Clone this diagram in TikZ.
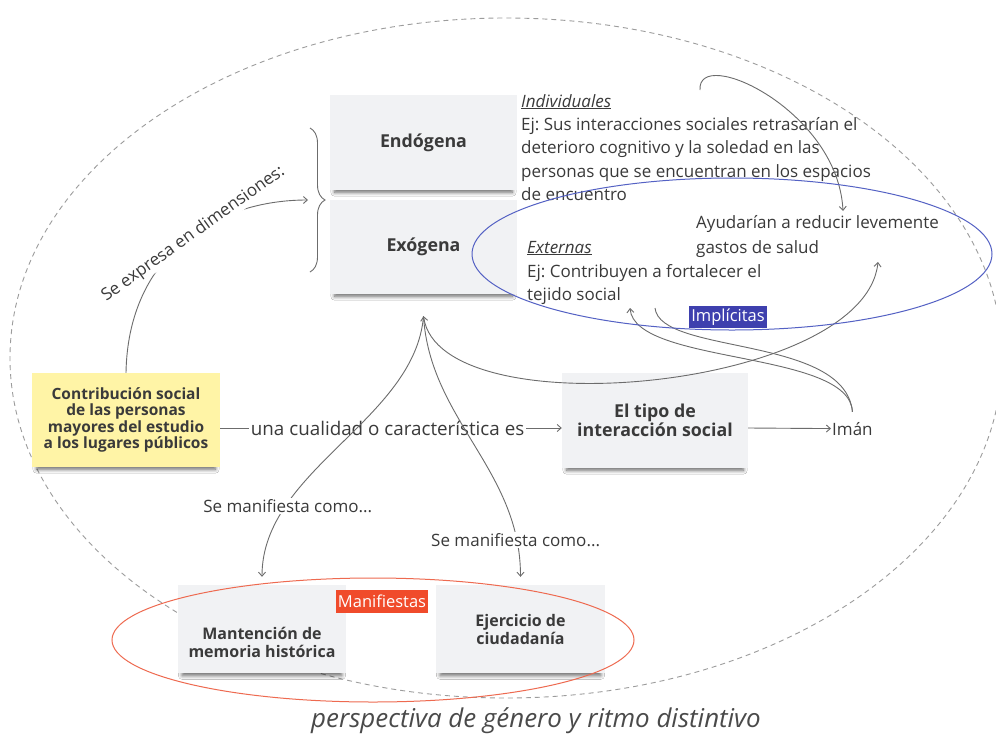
\documentclass[tikz,border=0pt]{standalone}
\usepackage{fontspec}
\setmainfont{Open Sans}
\usetikzlibrary{arrows.meta,calc,decorations.pathreplacing,shadows.blur}
\frenchspacing

\definecolor{ink}{HTML}{3A3A3A}
\definecolor{softink}{HTML}{4A4A4A}
\definecolor{wire}{HTML}{6C6C6C}
\definecolor{cardfill}{HTML}{F1F2F4}
\definecolor{stickyfill}{HTML}{FFF4A6}
\definecolor{implblue}{HTML}{3E40AE}
\definecolor{ringblue}{HTML}{5461C4}
\definecolor{manired}{HTML}{F04B2B}
\definecolor{ringred}{HTML}{EE6A50}
\definecolor{dashgray}{HTML}{9C9C9C}

\tikzset{
  cardshadow/.style={blur shadow={shadow xshift=0pt, shadow yshift=-5pt,
      shadow scale=0.95, shadow opacity=60, shadow blur steps=8, shadow blur radius=4pt}},
  card/.style={fill=cardfill, inner sep=2pt, align=center, text=ink, cardshadow},
  sticky/.style={fill=stickyfill, inner sep=2pt, align=center, text=ink, cardshadow},
  txt/.style={anchor=base west, inner sep=0pt, text=ink, font=\fontsize{17}{23}\selectfont},
  lbl/.style={fill=white, inner sep=1.5pt, text=ink, font=\fontsize{17}{20}\selectfont},
  wire/.style={draw=wire, line width=0.9pt},
  tip/.style={-{Straight Barb[length=4pt,width=7pt]}},
  tag/.style={inner sep=1pt, text=white, font=\fontsize{16.5}{18}\selectfont},
  cardtitle/.style={font=\bfseries\fontsize{17.8}{18.5}\selectfont},
}

\begin{document}
\begin{tikzpicture}[x=1pt,y=-1pt]
\useasboundingbox (0,0) rectangle (996,734);
\fill[white] (0,0) rectangle (996,734);

% outer dashed boundary
\draw[dashgray, line width=0.9pt, dash pattern=on 5pt off 4pt]
  (506,358) ellipse [x radius=496pt, y radius=340pt];

% cards
\node[card, cardtitle, minimum width=187pt, minimum height=95pt] (endo) at (423.5,142.5) {Endógena};
\node[card, cardtitle, minimum width=187pt, minimum height=94pt] (exo) at (423.5,247) {Exógena};
\node[sticky, minimum width=188pt, minimum height=94pt,
      font=\bfseries\fontsize{15.5}{16.5}\selectfont] (contrib) at (126,420)
  {Contribución social\\de las personas\\mayores del estudio\\a los lugares públicos};
\node[card, cardtitle, minimum width=186pt, minimum height=95pt] (tipo) at (655,420.5)
  {El tipo de\\interacción social};
\node[card, minimum width=168pt, minimum height=88pt] (mant) at (262,629) {};
\node[text=ink, align=center, inner sep=0pt,
      font=\bfseries\fontsize{16}{18}\selectfont] (mantTxt) at (262,642)
  {Mantención de\\memoria histórica};
\node[card, minimum width=169pt, minimum height=88pt,
      font=\bfseries\fontsize{16}{18}\selectfont] (ejer) at (520.5,629)
  {Ejercicio de\\ciudadanía};

% brace grouping the two dimensions
\draw[wire, decorate, decoration={brace, amplitude=15pt}] (310,128) -- (310,272)
  coordinate[pos=0.5] (braceMid);

% texts of the individual dimension
\node[txt, font=\itshape\fontsize{17}{23}\selectfont] (indHead) at (521,107) {\underline{Individuales}};
\node[txt] (ind1) at (521,130) {Ej: Sus interacciones sociales retrasarían el};
\node[txt] (ind2) at (521,153) {deterioro cognitivo y la soledad en las};
\node[txt] (ind3) at (521,177) {personas que se encuentran en los espacios};
\node[txt] (ind4) at (521,200) {de encuentro};

% texts of the external dimension
\node[txt, font=\itshape\fontsize{17}{23}\selectfont] (extHead) at (527,253) {\underline{Externas}};
\node[txt] (ext1) at (527,277) {Ej: Contribuyen a fortalecer el};
\node[txt] (ext2) at (527,300) {tejido social};

\node[txt] (ayu1) at (696,228) {Ayudarían a reducir levemente};
\node[txt] (ayu2) at (696,253) {gastos de salud};

\node[txt, inner xsep=1pt, inner ysep=10pt] (iman) at (831,435) {Imán};

% connector ends
\coordinate (exoPort) at ($(exo.south)+(0,22)$);
\coordinate (braceIn) at (308,200);
\coordinate (indOut) at (700,90);
\coordinate (ayuTop) at (843,211);
\coordinate (ayuIn) at (878,262);
\coordinate (tejIn) at (630,308);
\coordinate (tejOut) at (655,308);

% connectors
\draw[wire, tip] (contrib.north) .. controls (128,255) and (215,200) .. (braceIn)
  node[pos=0.55, sloped, fill=white, inner sep=1pt, text=ink,
       font=\fontsize{17}{20}\selectfont] (dimLbl) {Se expresa en dimensiones:};

\draw[wire, tip] ($(contrib.east)+(0,8)$) -- ($(tipo.west)+(0,7.5)$)
  node[lbl, pos=0.49, font=\fontsize{18.8}{21}\selectfont] (qualLbl) {una cualidad o característica es};
\draw[wire, tip] ($(tipo.east)+(0,7.5)$) -- (iman.west);

\draw[wire, tip] (exoPort) .. controls (415,420) and (262,470) .. (mant.north)
  [shorten >=8pt] node[lbl, pos=0.74] (manLblA) {Se manifiesta como...};
\draw[wire, tip] (exoPort) .. controls (430,420) and (520.5,470) .. (ejer.north)
  [shorten >=8pt] node[lbl, pos=0.86] (manLblB) {Se manifiesta como...};

\draw[wire, {Straight Barb[length=4pt,width=7pt]}-{Straight Barb[length=4pt,width=7pt]}]
  (exoPort) .. controls (440,430) and (865,390) .. (ayuIn);

\draw[wire, tip] (iman.north) .. controls (850,350) and (635,365) .. (tejIn);
\draw[wire] (tejOut) .. controls (660,355) and (845,335) .. (iman.north);

\draw[wire, tip] (indOut) .. controls (697,45) and (838,110) .. (ayuTop);

% grouping rings and their tags
\draw[ringblue, line width=1pt] (732,254) ellipse [x radius=260pt, y radius=76pt];
\draw[ringred, line width=1pt] (373,640) ellipse [x radius=261pt, y radius=62pt];
\node[tag, fill=implblue, minimum width=78pt, minimum height=22pt] (impl) at (728,317) {Implícitas};
\node[tag, fill=manired, minimum width=92pt, minimum height=23pt] (mani) at (382,601.5) {Manifiestas};

% caption
\node[anchor=base, inner sep=0pt, text=softink,
      font=\itshape\fontsize{25.9}{30}\selectfont] (caption) at (536,727)
  {perspectiva de género y ritmo distintivo};
\end{tikzpicture}
\end{document}
